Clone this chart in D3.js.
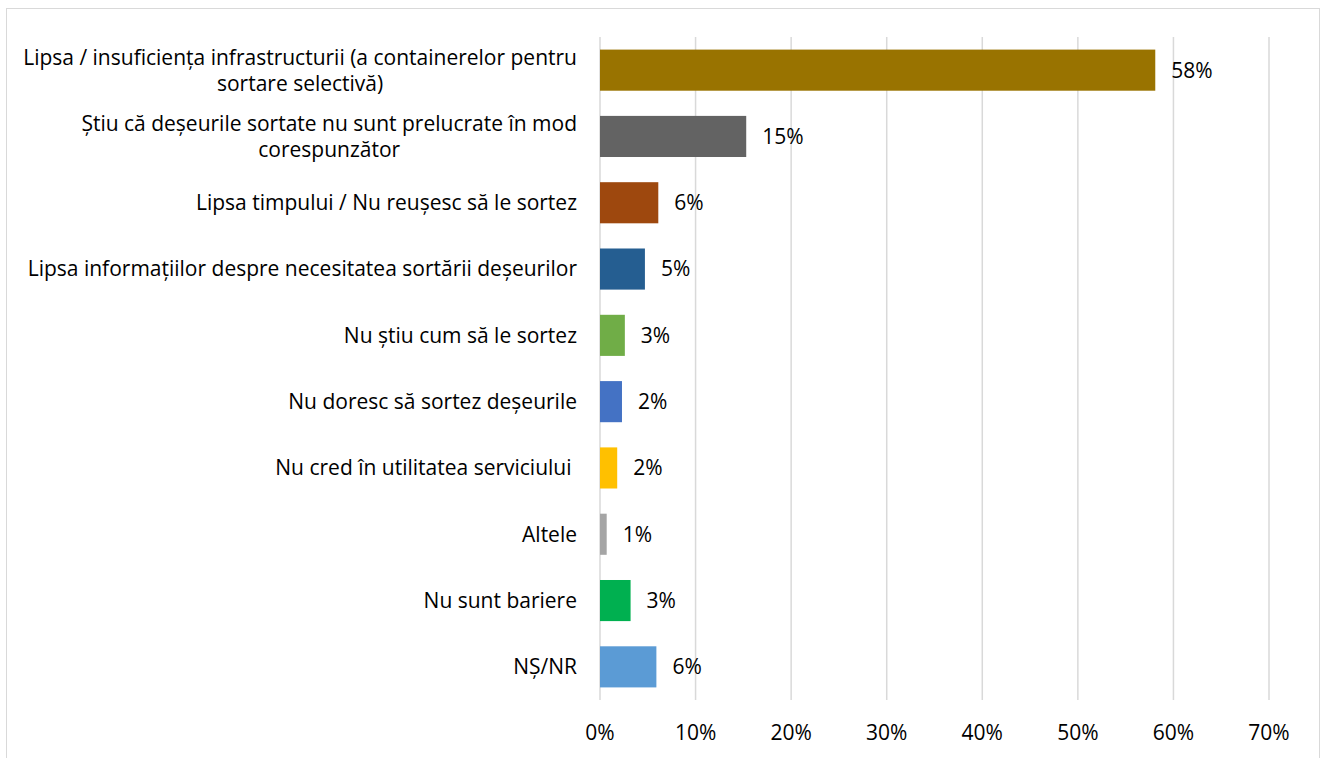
<!DOCTYPE html>
<html>
<head>
<meta charset="utf-8">
<script src="https://cdn.jsdelivr.net/npm/d3@7"></script>
<style>
  body { margin: 0; background: #fff; }
  text { font-family: "Open Sans", sans-serif; fill: #000; white-space: pre; }
</style>
</head>
<body>
<svg id="chart" width="1321" height="758"></svg>
<script>
const categories = [
  ["Lipsa / insuficiența infrastructurii (a containerelor pentru", "sortare selectivă)"],
  ["Știu că deșeurile sortate nu sunt prelucrate în mod", "corespunzător"],
  ["Lipsa timpului / Nu reușesc să le sortez"],
  ["Lipsa informațiilor despre necesitatea sortării deșeurilor"],
  ["Nu știu cum să le sortez"],
  ["Nu doresc să sortez deșeurile"],
  ["Nu cred în utilitatea serviciului "],
  ["Altele"],
  ["Nu sunt bariere"],
  ["NȘ/NR"]
];
const values = [58.1, 15.3, 6.1, 4.7, 2.6, 2.3, 1.8, 0.7, 3.2, 5.9];
const valueLabels = ["58%", "15%", "6%", "5%", "3%", "2%", "2%", "1%", "3%", "6%"];
const colors = ["#997300", "#636363", "#9E480E", "#255E91", "#70AD47",
                "#4472C4", "#FFC000", "#A5A5A5", "#00B050", "#5B9BD5"];
const xTicks = [0, 10, 20, 30, 40, 50, 60, 70];

const fontSize = 21;
const svg = d3.select("#chart");

// outer frame
svg.append("rect")
  .attr("x", 6.5).attr("y", 8.5)
  .attr("width", 1313).attr("height", 770)
  .attr("fill", "none")
  .attr("stroke", "#D9D9D9")
  .attr("stroke-width", 1);

const plot = { left: 600, right: 1269, top: 37, bottom: 700 };

const xScale = d3.scaleLinear()
  .domain([0, 70])
  .range([plot.left, plot.right]);

const yScale = d3.scaleBand()
  .domain(d3.range(categories.length))
  .range([plot.top, plot.bottom])
  .paddingInner(0.38)
  .paddingOuter(0.19);

// gridlines
svg.append("g")
  .selectAll("line")
  .data(xTicks)
  .join("line")
  .attr("x1", (d) => xScale(d)).attr("x2", (d) => xScale(d))
  .attr("y1", plot.top).attr("y2", plot.bottom)
  .attr("stroke", "#D9D9D9")
  .attr("stroke-width", 1.5);

// x axis labels
svg.append("g")
  .selectAll("text")
  .data(xTicks)
  .join("text")
  .attr("x", (d) => xScale(d))
  .attr("y", 733)
  .attr("dy", "0.35em")
  .attr("text-anchor", "middle")
  .attr("font-size", fontSize)
  .text((d) => d + "%");

// bars
svg.append("g")
  .selectAll("rect")
  .data(values)
  .join("rect")
  .attr("x", xScale(0))
  .attr("y", (d, i) => yScale(i))
  .attr("width", (d) => xScale(d) - xScale(0))
  .attr("height", yScale.bandwidth())
  .attr("fill", (d, i) => colors[i]);

// value labels
svg.append("g")
  .selectAll("text")
  .data(values)
  .join("text")
  .attr("x", (d) => xScale(d) + 16)
  .attr("y", (d, i) => yScale(i) + yScale.bandwidth() / 2)
  .attr("dy", "0.35em")
  .attr("font-size", fontSize)
  .text((d, i) => valueLabels[i]);

// category labels - block right-aligned to 577, lines centred within block (like Excel)
const catG = svg.append("g");
const labelRight = 577;
categories.forEach((lines, i) => {
  const cy = yScale(i) + yScale.bandwidth() / 2;
  const lh = 26;
  const t = catG.append("text")
    .attr("text-anchor", "middle")
    .attr("font-size", fontSize);
  const spans = lines.map((line, j) =>
    t.append("tspan")
      .attr("y", cy + (j - (lines.length - 1) / 2) * lh)
      .attr("dy", "0.35em")
      .text(line)
  );
  const maxW = d3.max(spans, (s) => s.node().getComputedTextLength());
  spans.forEach((s) => s.attr("x", labelRight - maxW / 2));
});
</script>
</body>
</html>
